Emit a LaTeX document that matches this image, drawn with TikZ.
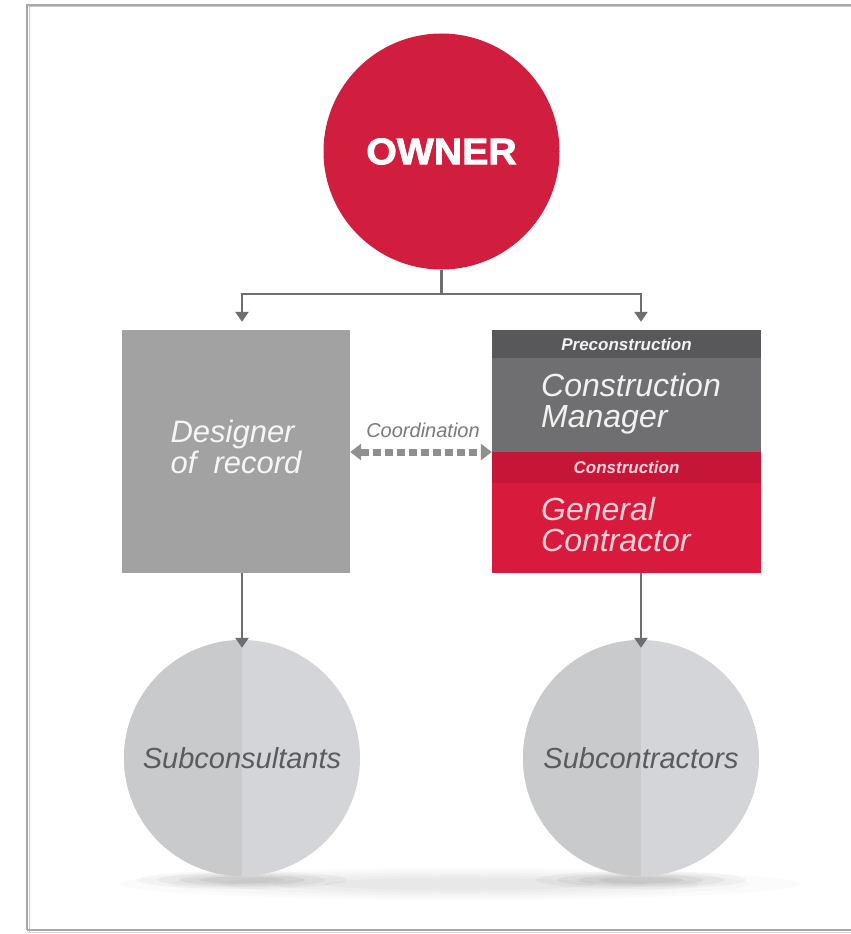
\documentclass[tikz,border=0pt]{standalone}
\usepackage{fontspec}
\setmainfont{Liberation Sans}
\newfontfamily\heavyfont[FakeBold=2.2]{Liberation Sans Bold}
\usetikzlibrary{arrows.meta,calc}
\definecolor{ownred}{HTML}{D21E3E}
\definecolor{dorgray}{HTML}{A2A2A2}
\definecolor{preband}{HTML}{58585A}
\definecolor{cmgray}{HTML}{6F6F71}
\definecolor{conband}{HTML}{C51637}
\definecolor{gcred}{HTML}{D81B3D}
\definecolor{subleft}{HTML}{C9CACC}
\definecolor{subright}{HTML}{D4D5D8}
\definecolor{conngray}{HTML}{6D6E71}
\definecolor{coordgray}{HTML}{8F8F8F}
\definecolor{framegray}{HTML}{A8A8A8}
\definecolor{subtext}{HTML}{5A5B5E}
\definecolor{pinktext}{HTML}{F7D2D9}
\begin{document}
\begin{tikzpicture}[x=1pt,y=-1pt,
  ownerc/.style={circle,fill=ownred,minimum size=236pt,inner sep=0pt,text=white,font=\fontsize{37}{37}\selectfont\heavyfont},
  boxc/.style={rectangle,inner sep=0pt,minimum width=#1},
  bigtxt/.style={font=\fontsize{32}{31}\selectfont\itshape,align=left,inner sep=0pt},
  bandtxt/.style={font=\fontsize{17}{17}\selectfont\bfseries\itshape,inner sep=0pt},
  subc/.style={circle,minimum size=236pt,inner sep=0pt,text=subtext,font=\fontsize{29}{29}\selectfont\itshape,
    fill=subright,
    path picture={\fill[subleft] (path picture bounding box.south west) rectangle (path picture bounding box.north);}},
  conn/.style={draw=conngray,line width=2.6pt},
  arr/.style={conn,-{Triangle[width=13pt,length=10pt]}},
]
\useasboundingbox (0,0) rectangle (851,934);
\fill[white] (0,0) rectangle (851,934);
% frame
\draw[framegray!60,line width=1pt] (29,932) -- (29,7) -- (855,7);
\draw[framegray,line width=1.6pt] (27,930) -- (27,5) -- (855,5);
\draw[framegray,line width=1.6pt] (27,930) -- (855,930);
\draw[framegray!40,line width=1.5pt] (27,932.5) -- (855,932.5);

% soft shadow under the circles
\foreach \r/\o in {1/0.015,0.85/0.015,0.7/0.02,0.55/0.02,0.4/0.02}{
  \fill[black,opacity=\o] (460,884) ellipse ({340*\r} and {16*\r});
}
\foreach \cx in {242,641}{
  \foreach \r/\o in {1/0.03,0.8/0.04,0.6/0.05,0.4/0.05}{
    \fill[black,opacity=\o] (\cx,880) ellipse ({105*\r} and {9*\r});
  }
}

% owner
\node[ownerc] (owner) at (441.5,151.5) {\scalebox{1.06}[1]{OWNER}};

% designer of record
\node[boxc=228pt,minimum height=243pt,fill=dorgray] (dor) at (236,451.5) {};
\node[font=\fontsize{31}{31}\selectfont\itshape,text=white!90!dorgray,align=left,inner sep=0pt] (dortxt) at (236,447) {Designer\\of\ \ record};

% right stack
\node[boxc=269pt,minimum height=28pt,fill=preband] (pre) at (626.5,344) {};
\node[boxc=269pt,minimum height=94pt,fill=cmgray] (cm) at (626.5,405) {};
\node[boxc=269pt,minimum height=31pt,fill=conband] (con) at (626.5,467.5) {};
\node[boxc=269pt,minimum height=90pt,fill=gcred] (gc) at (626.5,528) {};
\node[bandtxt,text=white!92!preband] (pretxt) at (pre.center) {Preconstruction};
\node[bandtxt,text=pinktext] (contxt) at (con.center) {Construction};
\node[bigtxt,text=white!90!cmgray,anchor=west] (cmtxt) at (541,404) {Construction\\Manager};
\node[bigtxt,text=pinktext,anchor=west] (gctxt) at (541,525) {General\\Contractor};

% bottom circles
\node[subc] (sc) at (242,758) {Subconsultants};
\node[subc] (sk) at (641,758) {Subcontractors};

% connectors
\coordinate (j) at (441.5,294);
\draw[conn] (owner.south) -- (j);
\draw[arr,shorten >=8pt] (j) -| (sc.north |- dor.north);
\draw[arr,shorten >=8pt] (j) -| (sk.north |- pre.north);
\draw[arr,shorten >=-8pt] (sc.north |- dor.south) -- (sc.north);
\draw[arr,shorten >=-8pt] (sk.north |- gc.south) -- (sk.north);

% coordination
\draw[draw=coordgray,line width=7pt,dash pattern=on 8pt off 4pt,
  {Triangle[width=16pt,length=11pt]}-{Triangle[width=16pt,length=11pt]}]
  (dor.east |- 0,452) -- (pre.west |- 0,452);
\node[font=\fontsize{20}{20}\selectfont\itshape,text=coordgray!85!black,inner sep=0pt] (coord) at (423,430) {Coordination};
\end{tikzpicture}
\end{document}
